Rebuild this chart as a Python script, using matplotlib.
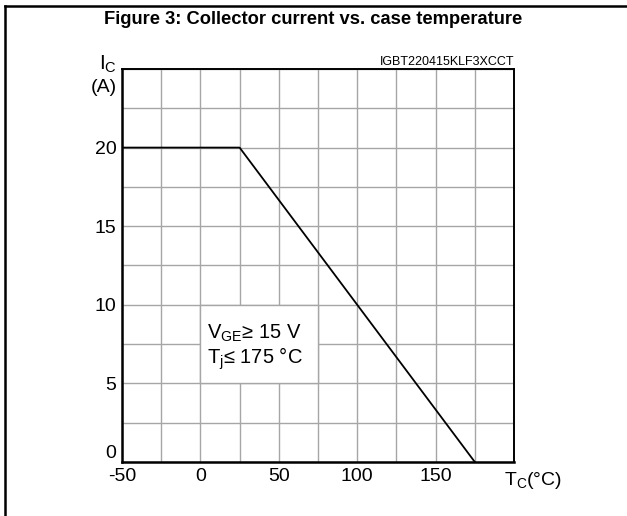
import matplotlib
matplotlib.use("Agg")
import matplotlib.pyplot as plt
from matplotlib.patches import Rectangle
from matplotlib.lines import Line2D
import numpy as np

plt.rcParams['font.family'] = ['Liberation Sans', 'DejaVu Sans']
plt.rcParams['mathtext.fontset'] = 'custom'
plt.rcParams['mathtext.rm'] = 'Liberation Sans'
plt.rcParams['mathtext.it'] = 'Liberation Sans'
plt.rcParams['axes.unicode_minus'] = False

# data
case_temp = [-50, 25, 175]
collector_current = [20, 20, 0]
x_ticks = [-50, 0, 50, 100, 150]
y_ticks = [0, 5, 10, 15, 20]
title = "Figure 3: Collector current vs. case temperature"
fig_code = "IGBT220415KLF3XCCT"

fig = plt.figure(figsize=(6.27, 5.16), dpi=100)
ax = fig.add_axes([0.1946, 0.1047, 0.6252, 0.7616])

grid_col = '#a6a6a6'
ax.set_xlim(-50, 200)
ax.set_ylim(0, 25)
ax.set_xticks(x_ticks)
ax.set_xticks(np.arange(-50, 201, 25), minor=True)
ax.set_yticks(y_ticks)
ax.set_yticks(np.arange(0, 25.1, 2.5), minor=True)
ax.grid(True, which='both', color=grid_col, lw=1.0)
ax.set_axisbelow(True)
ax.tick_params(which='both', length=0, labelsize=14)
ax.tick_params(axis='x', pad=4)
ax.tick_params(axis='y', pad=4)
ylabels = ax.get_yticklabels()
ylabels[0].set_va('bottom')

for s in ['left', 'bottom']:
    ax.spines[s].set_linewidth(1.8)
for s in ['top', 'right']:
    ax.spines[s].set_linewidth(1.4)

ax.plot(case_temp, collector_current, color='black', lw=1.3, zorder=4)

# condition box
ax.add_patch(Rectangle((0, 5), 75, 5, facecolor='white', edgecolor=grid_col,
                       lw=1.0, zorder=3))
ax.text(4.5, 8.2, r'V$_\mathrm{GE}$≥ 15 V', fontsize=14.5, va='center', ha='left', zorder=5)
ax.text(4.5, 6.55, r'T$_\mathrm{j}$≤ 175 °C', fontsize=14.5, va='center', ha='left', zorder=5)

# axis labels
ax.text(-0.013, 0.985, r'I$_\mathrm{C}$', transform=ax.transAxes, fontsize=15,
        ha='right', va='bottom')
ax.text(-0.013, 0.975, '(A)', transform=ax.transAxes, fontsize=14,
        ha='right', va='top')
ax.text(0.9745, -0.02, r'T$_\mathrm{C}$(°C)', transform=ax.transAxes, fontsize=14,
        ha='left', va='top')
ax.text(1.0, 1.002, fig_code, transform=ax.transAxes, fontsize=9,
        ha='right', va='bottom')

fig.text(0.5, 0.963, title, fontsize=13.2, fontweight='bold', ha='center', va='center')

# outer frame lines
fig.add_artist(Line2D([5 / 627, 1], [1 - 6 / 516, 1 - 6 / 516], color='black', lw=1.8))
fig.add_artist(Line2D([5 / 627, 5 / 627], [0, 1 - 6 / 516], color='black', lw=1.8))

fig.savefig("out.png", dpi=100)
